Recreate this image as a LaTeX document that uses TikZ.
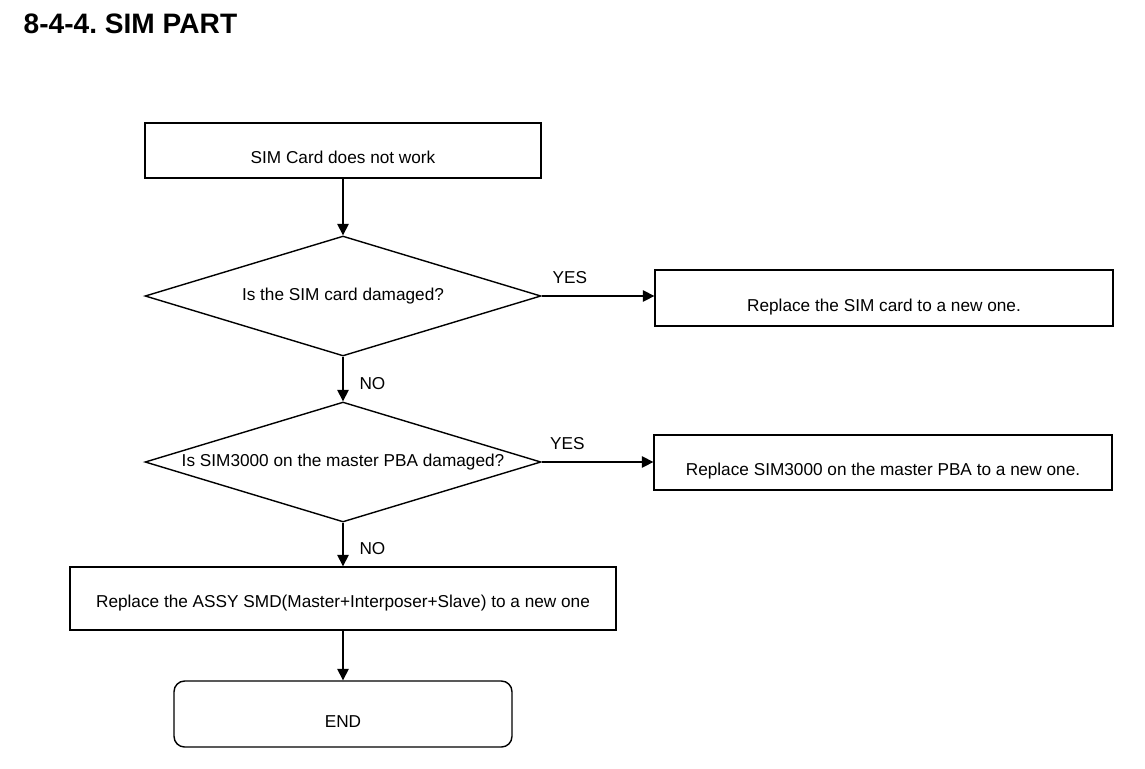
\documentclass[tikz,border=0pt]{standalone}
\usepackage{fontspec}
\setmainfont{Liberation Sans}
\usetikzlibrary{arrows.meta,positioning,shapes.geometric}

\begin{document}
\frenchspacing
\begin{tikzpicture}[x=0.02cm, y=-0.02cm, line width=0.8pt,
    every node/.style={font=\fontsize{9.8}{11}\selectfont},
    stepbox/.style={draw, rectangle, minimum height=1.1cm, text height=15pt, text depth=0pt},
    askbox/.style={draw, diamond, minimum width=7.92cm, minimum height=2.4cm, aspect=3.3, inner sep=0pt},
    endbox/.style={draw, rectangle, rounded corners=6pt, minimum width=6.76cm, minimum height=1.32cm, text height=15pt, text depth=0pt},
    flow/.style={-{Triangle[length=6.5pt, width=6.5pt]}}]
  \useasboundingbox (0,0) rectangle (1145,768);
  \node[anchor=base west, inner sep=0pt, font=\fontsize{16}{19}\selectfont\bfseries] (title) at (23,33) {8-4-4. SIM PART};
  % main column
  \node[stepbox, minimum width=7.92cm] (start) at (343,150.5) {SIM Card does not work};
  \node[askbox] (simcard) at (343,296) {Is the SIM card damaged?};
  \node[askbox] (simchip) at (343,462) {Is SIM3000 on the master PBA damaged?};
  \node[stepbox, minimum width=10.92cm, minimum height=1.26cm, text height=10pt] (assy) at (343,598.5)
    {Replace the ASSY SMD(Master+Interposer+Slave) to a new one};
  \node[endbox] (finish) at (343,714) {END};
  % right column
  \node[stepbox, minimum width=9.16cm, minimum height=1.12cm] (newcard) at (884,298) {Replace the SIM card to a new one.};
  \node[stepbox, minimum width=9.16cm] (newchip) at (883,462.5) {Replace SIM3000 on the master PBA to a new one.};
  \draw[flow] (start) -- (simcard);
  \draw[flow] (simcard) -- node[pos=0.6, right=0.2cm] {NO} (simchip);
  \draw[flow] (simchip) -- node[pos=0.6, right=0.2cm] {NO} (assy);
  \draw[flow] (assy) -- (finish);
  \draw[flow] (simcard.east) -- node[pos=0.25, above=0.12cm] {YES} (newcard.west |- simcard.east);
  \draw[flow] (simchip.east) -- node[pos=0.23, above=0.12cm] {YES} (newchip.west |- simchip.east);
\end{tikzpicture}
\end{document}
